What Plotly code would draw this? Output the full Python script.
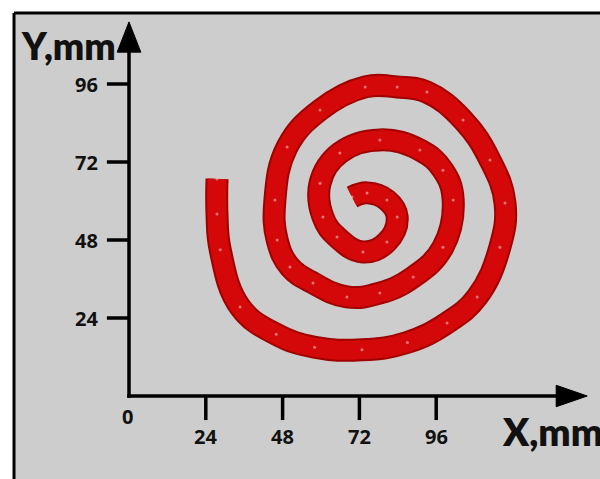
import plotly.graph_objects as go

# Spiral path (waypoints, mm), from outer end to inner end
spiral_x = [27.5, 27.5, 28.5, 34.7, 46.0, 58.0, 72.8, 87.0, 99.4, 108.8, 115.9, 117.5, 112.8,
            104.4, 93.1, 83.8, 73.8, 59.7, 49.4, 45.6, 46.3, 50.3, 57.5, 68.1, 78.4,
            88.8, 98.1, 101.3, 98.1, 90.9, 78.4, 65.9, 59.7, 60.6, 65.0, 73.1, 80.6,
            83.8, 80.6, 74.4, 69.7]
spiral_y = [66.8, 56.0, 45.0, 27.4, 19.0, 15.0, 14.2, 16.5, 22.5, 30.5, 45.8, 59.4, 72.6,
            84.9, 93.5, 95.1, 95.1, 88.0, 76.6, 60.3, 48.0, 39.7, 34.8, 30.5, 31.7,
            36.6, 45.8, 60.3, 69.5, 75.7, 78.8, 74.8, 65.5, 55.1, 48.9, 44.3, 47.4,
            55.1, 60.3, 62.5, 61.2]

x_ticks = [24, 48, 72, 96]
x_tick_labels = ["24", "48", "72", "96"]
y_ticks = [24, 48, 72, 96]
y_tick_labels = ["24", "48", "72", "96"]
origin_label = "0"
x_title = "X,mm"
y_title = "Y,mm"

fig = go.Figure()
fig.add_trace(go.Scatter(x=spiral_x, y=spiral_y, mode="lines",
                         line=dict(color="#a00000", width=23, shape="spline", smoothing=1.2),
                         hoverinfo="skip", showlegend=False))
fig.add_trace(go.Scatter(x=spiral_x, y=spiral_y, mode="lines+markers",
                         line=dict(color="#d40808", width=19, shape="spline", smoothing=1.2),
                         marker=dict(size=3, color="rgba(255,190,190,0.6)"),
                         showlegend=False))

shapes = []
# axes lines
shapes.append(dict(type="line", xref="x", yref="y", x0=-0.55, y0=0, x1=135, y1=0,
                   line=dict(color="black", width=3.5)))
shapes.append(dict(type="line", xref="x", yref="y", x0=0, y0=-0.55, x1=0, y1=106,
                   line=dict(color="black", width=3.5)))
# arrowheads
shapes.append(dict(type="path", xref="x", yref="y", path="M 133.5,3.3 L 143.2,0 L 133.5,-3.3 Z",
                   fillcolor="black", line=dict(color="black", width=1)))
shapes.append(dict(type="path", xref="x", yref="y", path="M -3.7,105.8 L 0,115.1 L 3.7,105.8 Z",
                   fillcolor="black", line=dict(color="black", width=1)))
# ticks
for t in x_ticks:
    shapes.append(dict(type="line", xref="x", yref="y", x0=t, y0=0, x1=t, y1=-7.4,
                       line=dict(color="black", width=3.5)))
for t in y_ticks:
    shapes.append(dict(type="line", xref="x", yref="y", x0=-6.9, y0=t, x1=0, y1=t,
                       line=dict(color="black", width=3.5)))
# frame border (left and top)
shapes.append(dict(type="line", xref="paper", yref="paper", x0=0, y0=0, x1=0, y1=1,
                   line=dict(color="black", width=3)))
shapes.append(dict(type="line", xref="paper", yref="paper", x0=0, y0=1, x1=1, y1=1,
                   line=dict(color="black", width=3)))

tick_font = dict(family="Open Sans", size=20, color="#111111", weight=700)
ann = []
for t, lab in zip(x_ticks, x_tick_labels):
    ann.append(dict(x=t, y=-12.6, xref="x", yref="y", text=lab, showarrow=False,
                    font=tick_font, xanchor="center", yanchor="middle"))
for t, lab in zip(y_ticks, y_tick_labels):
    ann.append(dict(x=-9.2, y=t, xref="x", yref="y", text=lab, showarrow=False,
                    font=tick_font, xanchor="right", yanchor="middle"))
ann.append(dict(x=-0.6, y=-6.2, xref="x", yref="y", text=origin_label, showarrow=False,
                font=tick_font, xanchor="center", yanchor="middle"))
title_font = dict(family="Lato", size=37, color="#111111", weight=800)
ann.append(dict(x=-34.5, y=108, xref="x", yref="y", text=y_title, showarrow=False,
                font=title_font, xanchor="left", yanchor="middle"))
ann.append(dict(x=115.8, y=-10.8, xref="x", yref="y", text=x_title, showarrow=False,
                font=dict(family="Lato", size=38, color="#111111", weight=800),
                xanchor="left", yanchor="middle"))

fig.update_layout(
    width=600, height=479,
    margin=dict(l=14, r=0, t=13, b=0),
    paper_bgcolor="white", plot_bgcolor="#cdcdcd",
    xaxis=dict(range=[-35.9375, 147.1875], visible=False, fixedrange=True),
    yaxis=dict(range=[-25.538, 117.846], visible=False, fixedrange=True),
    shapes=shapes, annotations=ann, showlegend=False,
)
fig.write_html(
    "out.html",
    config={"displayModeBar": False},
    post_script="document.body.style.margin='0';"
                "document.documentElement.style.overflow='hidden';"
                "document.body.style.overflow='hidden';",
)
